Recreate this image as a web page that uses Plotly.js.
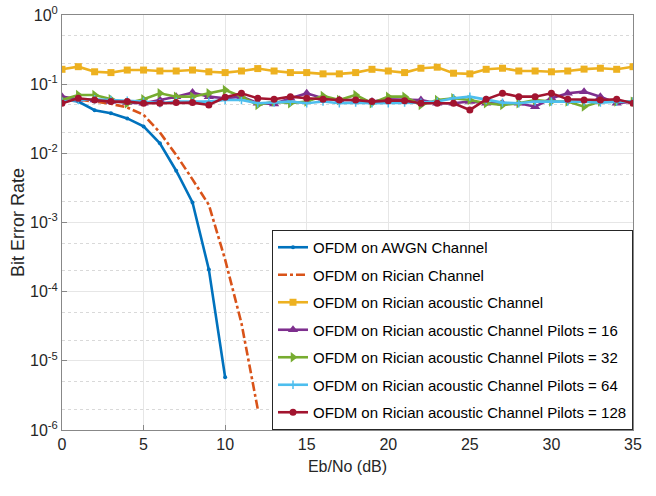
<!DOCTYPE html>
<html>
<head>
<meta charset="utf-8">
<script src="https://cdn.plot.ly/plotly-3.0.1.min.js"></script>
<style>html,body{margin:0;padding:0;background:#fff;}#chart{width:656px;height:496px;}</style>
</head>
<body>
<div id="chart"></div>
<script>
// Eb/No axis (dB)
const snrAll = [0,1,2,3,4,5,6,7,8,9,10,11,12,13,14,15,16,17,18,19,20,21,22,23,24,25,26,27,28,29,30,31,32,33,34,35];
const snrAwgn = [0,1,2,3,4,5,6,7,8,9,10];
const snrRician = [0,1,2,3,4,5,6,7,8,9,10,11,12];

const berAwgn = [0.06, 0.056, 0.042, 0.038, 0.032, 0.0245, 0.014, 0.0056, 0.00195, 0.00021, 0.0000058];
const berRician = [0.06, 0.06, 0.056, 0.052, 0.046, 0.036, 0.02, 0.0095, 0.0042, 0.0018, 0.00029, 0.000035, 0.000002];
const berAcoustic = [0.164, 0.179, 0.151, 0.147, 0.16, 0.16, 0.155, 0.155, 0.16, 0.151, 0.147, 0.155, 0.168, 0.155, 0.147, 0.147, 0.141, 0.141, 0.147,
  0.164, 0.155, 0.147, 0.17, 0.176, 0.144, 0.141, 0.164, 0.17, 0.155, 0.155, 0.151, 0.155, 0.165, 0.17, 0.164, 0.179];
const berP16 = [0.066, 0.0604, 0.0591, 0.056, 0.0541, 0.053, 0.0591, 0.066, 0.0755, 0.066, 0.0625, 0.066, 0.053, 0.0518, 0.0625, 0.0738, 0.0625, 0.0591,
  0.0591, 0.056, 0.0604, 0.0604, 0.0591, 0.053, 0.053, 0.056, 0.053, 0.053, 0.053, 0.0473, 0.0625, 0.0738, 0.078, 0.066, 0.053, 0.056];
const berP32 = [0.0591, 0.0698, 0.0698, 0.0604, 0.053, 0.0604, 0.0738, 0.066, 0.066, 0.0738, 0.0825, 0.066, 0.05, 0.056, 0.053, 0.056, 0.0675, 0.0591,
  0.0698, 0.053, 0.066, 0.066, 0.05, 0.0591, 0.0625, 0.0591, 0.053, 0.05, 0.053, 0.0591, 0.056, 0.056, 0.0473, 0.056, 0.056, 0.056];
const berP64 = [0.056, 0.0591, 0.0604, 0.0591, 0.0578, 0.056, 0.053, 0.056, 0.056, 0.056, 0.0591, 0.0591, 0.053, 0.0541, 0.056, 0.053, 0.056, 0.053,
  0.0541, 0.053, 0.053, 0.0541, 0.0541, 0.056, 0.0625, 0.066, 0.0591, 0.0541, 0.053, 0.056, 0.056, 0.056, 0.056, 0.0541, 0.056, 0.056];
const berP128 = [0.053, 0.0625, 0.0591, 0.056, 0.056, 0.053, 0.053, 0.0541, 0.0541, 0.05, 0.0646, 0.0738, 0.0625, 0.0604, 0.066, 0.0625, 0.0604, 0.0591,
  0.0591, 0.056, 0.0578, 0.0578, 0.053, 0.053, 0.053, 0.0424, 0.0604, 0.0738, 0.066, 0.066, 0.0738, 0.0604, 0.0591, 0.0591, 0.0604, 0.053];

// Y tick labels
const yTickVals = [1e-6, 1e-5, 1e-4, 1e-3, 1e-2, 1e-1, 1];
const yTickText = ['10<sup>-6</sup>', '10<sup>-5</sup>', '10<sup>-4</sup>', '10<sup>-3</sup>', '10<sup>-2</sup>', '10<sup>-1</sup>', '10<sup>0</sup>'];

const names = [
  'OFDM on AWGN Channel',
  'OFDM on Rician Channel',
  'OFDM on Rician acoustic Channel',
  'OFDM on Rician acoustic Channel Pilots = 16',
  'OFDM on Rician acoustic Channel Pilots = 32',
  'OFDM on Rician acoustic Channel Pilots = 64',
  'OFDM on Rician acoustic Channel Pilots = 128'
];
const colors = ['#0072BD', '#D95319', '#EDB120', '#7E2F8E', '#77AC30', '#4DBEEE', '#A2142F'];

function tr(i, x, y, marker, dash) {
  const t = {
    x: x, y: y, name: names[i], type: 'scatter',
    mode: marker ? 'lines+markers' : 'lines',
    legendgroup: 'g' + i,
    line: {color: colors[i], width: 2.6, dash: dash || 'solid'}
  };
  if (marker) t.marker = Object.assign({color: colors[i]}, marker);
  return t;
}

const data = [
  tr(0, snrAwgn, berAwgn, {symbol: 'circle', size: 4}),
  tr(1, snrRician, berRician, null, 'dashdot'),
  tr(2, snrAll, berAcoustic, {symbol: 'square', size: 7}),
  tr(3, snrAll, berP16, {symbol: 'triangle-up', size: 9}),
  tr(4, snrAll, berP32, {symbol: 'triangle-right', size: 9}),
  tr(5, snrAll, berP64, {symbol: 'cross-thin-open', size: 6, line: {color: colors[5], width: 1.5}}),
  tr(6, snrAll, berP128, {symbol: 'circle', size: 7})
];

const fontFam = '"Liberation Sans", Arial, sans-serif';
const layout = {
  width: 656, height: 496,
  margin: {l: 62, r: 23, t: 15, b: 66},
  paper_bgcolor: '#fff', plot_bgcolor: '#fff',
  font: {family: fontFam, color: '#262626', size: 15},
  showlegend: true,
  legend: {
    x: 1, xanchor: 'right', y: 0, yanchor: 'bottom',
    bgcolor: '#fff', bordercolor: '#262626', borderwidth: 1,
    font: {family: fontFam, size: 15, color: '#000'},
    traceorder: 'grouped', tracegroupgap: 5,
    itemwidth: 30
  },
  xaxis: {
    range: [0, 35], dtick: 5, tick0: 0,
    title: {text: 'Eb/No (dB)', font: {size: 16}, standoff: 8},
    showline: true, mirror: true, linecolor: '#888', linewidth: 1,
    ticks: 'inside', ticklen: 5, tickcolor: '#888',
    showgrid: true, gridcolor: '#e6e6e6', gridwidth: 1,
    zeroline: false, tickfont: {size: 16}
  },
  yaxis: {
    type: 'log', range: [-6, 0],
    tickmode: 'array', tickvals: yTickVals, ticktext: yTickText,
    title: {text: 'Bit Error Rate', font: {size: 18}, standoff: 0},
    showline: true, mirror: true, linecolor: '#888', linewidth: 1,
    ticks: 'inside', ticklen: 5, tickcolor: '#888',
    showgrid: true, gridcolor: '#e6e6e6', gridwidth: 1,
    minor: {showgrid: true, gridcolor: '#d9d9d9', griddash: 'dot', gridwidth: 1, dtick: 'D1', tickmode: 'auto'},
    zeroline: false, tickfont: {size: 16}
  }
};

Plotly.newPlot('chart', data, layout, {displayModeBar: false, staticPlot: true});
</script>
</body>
</html>
